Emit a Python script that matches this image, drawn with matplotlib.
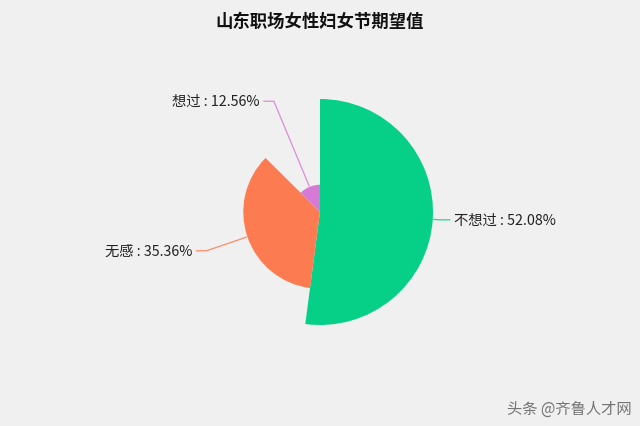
import numpy as np
import matplotlib
matplotlib.use('Agg')
import matplotlib.pyplot as plt
from matplotlib.patches import Wedge

plt.rcParams['font.family'] = ['Noto Sans CJK SC', 'DejaVu Sans']

# 数据
labels = ['不想过', '无感', '想过']
values = [52.08, 35.36, 12.56]
colors = ['#06d088', '#fd7b50', '#d77ad6']

BG = '#f1f0f1'

fig = plt.figure(figsize=(6.4, 4.27), dpi=100, facecolor=BG)
ax = fig.add_axes([0, 0, 1, 1])
ax.set_facecolor(BG)
ax.set_xlim(0, 640)
ax.set_ylim(0, 427)
ax.set_aspect('equal')
ax.axis('off')

cx, cy = 320, 214
r_max = 113
elbow_r = 120

total = sum(values)
vmax = max(values)
start = 90.0
for lab, val, col in zip(labels, values, colors):
    span = val / total * 360
    end = start - span
    r = val / vmax * r_max
    ax.add_patch(Wedge((cx, cy), r, end, start, facecolor=col, edgecolor='none'))

    # 引导线 + 标签
    mid = np.deg2rad((start + end) / 2)
    p0 = (cx + (r + 1) * np.cos(mid), cy + (r + 1) * np.sin(mid))
    p1 = (cx + elbow_r * np.cos(mid), cy + elbow_r * np.sin(mid))
    side = 1 if np.cos(mid) >= 0 else -1
    p2 = (p1[0] + side * 10, p1[1])
    ax.plot([p0[0], p1[0], p2[0]], [p0[1], p1[1], p2[1]], color=col, lw=0.9, alpha=0.85)
    ax.text(p2[0] + side * 4, p2[1], f'{lab} : {val:.2f}%',
            ha='left' if side > 0 else 'right', va='center',
            fontsize=10.3, color='#222222')
    start = end

ax.text(320, 405, '山东职场女性妇女节期望值', ha='center', va='center',
        fontsize=12.5, fontweight='bold', color='#111111')

ax.text(632, 18, '头条 @齐鲁人才网', ha='right', va='center',
        fontsize=11, color='#555555', alpha=0.8)

plt.savefig('out.png', dpi=100, facecolor=BG)
plt.close()
